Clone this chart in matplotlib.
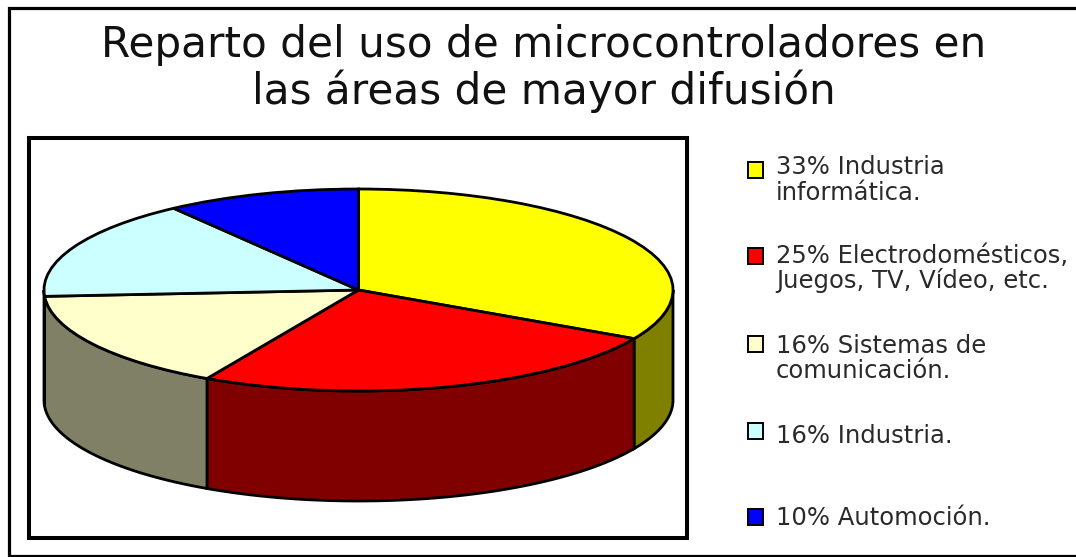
import numpy as np
import matplotlib
matplotlib.use("Agg")
import matplotlib.pyplot as plt
from matplotlib.patches import Rectangle, Polygon

W, H = 1076, 557
CX, CY, RX, RY, DEPTH = 358.5, 290, 314.5, 101, 110

title_lines = ["Reparto del uso de microcontroladores en", "las áreas de mayor difusión"]
shares = [33, 25, 16, 16, 10]
top_colors = ["#FFFF00", "#FF0000", "#FFFFCC", "#CCFFFF", "#0000FF"]
side_colors = ["#808000", "#800000", "#808066", "#668080", "#000080"]
legend_lines = [
    ("33% Industria", "informática."),
    ("25% Electrodomésticos,", "Juegos, TV, Vídeo, etc."),
    ("16% Sistemas de", "comunicación."),
    ("16% Industria.",),
    ("10% Automoción.",),
]
legend_box_y = [169.5, 256, 343.5, 430.5, 517]
legend_base_y = [174, 262.5, 353, 443, 525]

fig = plt.figure(figsize=(W / 100, H / 100), dpi=100, facecolor="white")
ax = fig.add_axes([0, 0, 1, 1])
ax.pie(shares, colors=top_colors, startangle=90, counterclock=False, radius=1,
       wedgeprops=dict(edgecolor="black", linewidth=2, zorder=3))
ax.set_aspect("auto")
ax.set_frame_on(False)
ax.set_xlim((0 - CX) / RX, (W - CX) / RX)
ax.set_ylim((CY - H) / RY, CY / RY)

def px(x):
    return (x - CX) / RX

def py(y):
    return (CY - y) / RY

dp = DEPTH / RY
edges = np.cumsum([0] + shares) / sum(shares) * 2 * np.pi
for a0, a1, c in zip(edges[:-1], edges[1:], side_colors):
    lo, hi = max(a0, np.pi / 2), min(a1, 3 * np.pi / 2)
    if hi <= lo:
        continue
    t = np.linspace(lo, hi, 120)
    xs, ys = np.sin(t), np.cos(t)
    pts = np.vstack([np.c_[xs, ys], np.c_[xs[::-1], ys[::-1] - dp]])
    ax.add_patch(Polygon(pts, closed=True, facecolor=c, edgecolor="black", linewidth=2, zorder=2))

# outer border: open on the right side of the picture
ax.plot([px(W), px(8.5), px(8.5), px(W)], [py(7.5), py(7.5), py(556), py(556)],
        color="black", linewidth=2.3, solid_joinstyle="miter", zorder=1)
ax.add_patch(Rectangle((px(29), py(538)), 657.5 / RX, 400 / RY, fill=False, edgecolor="black", linewidth=2.9, zorder=1))

for i, line in enumerate(title_lines):
    ax.text(px(544), py(45 + 46 * i), line, ha="center", va="center", fontsize=30.3,
            family="DejaVu Sans", color="#111111")

for by, ty, lines, c in zip(legend_box_y, legend_base_y, legend_lines, top_colors):
    ax.add_patch(Rectangle((px(747.5), py(by + 8)), 15.5 / RX, 16 / RY, facecolor=c, edgecolor="black", linewidth=1.4, zorder=3))
    for j, s in enumerate(lines):
        ax.text(px(776), py(ty + 25.5 * j), s, ha="left", va="baseline", fontsize=17.5,
                family="DejaVu Sans", color="#2a2a2a")

fig.savefig("out.png", dpi=100)
